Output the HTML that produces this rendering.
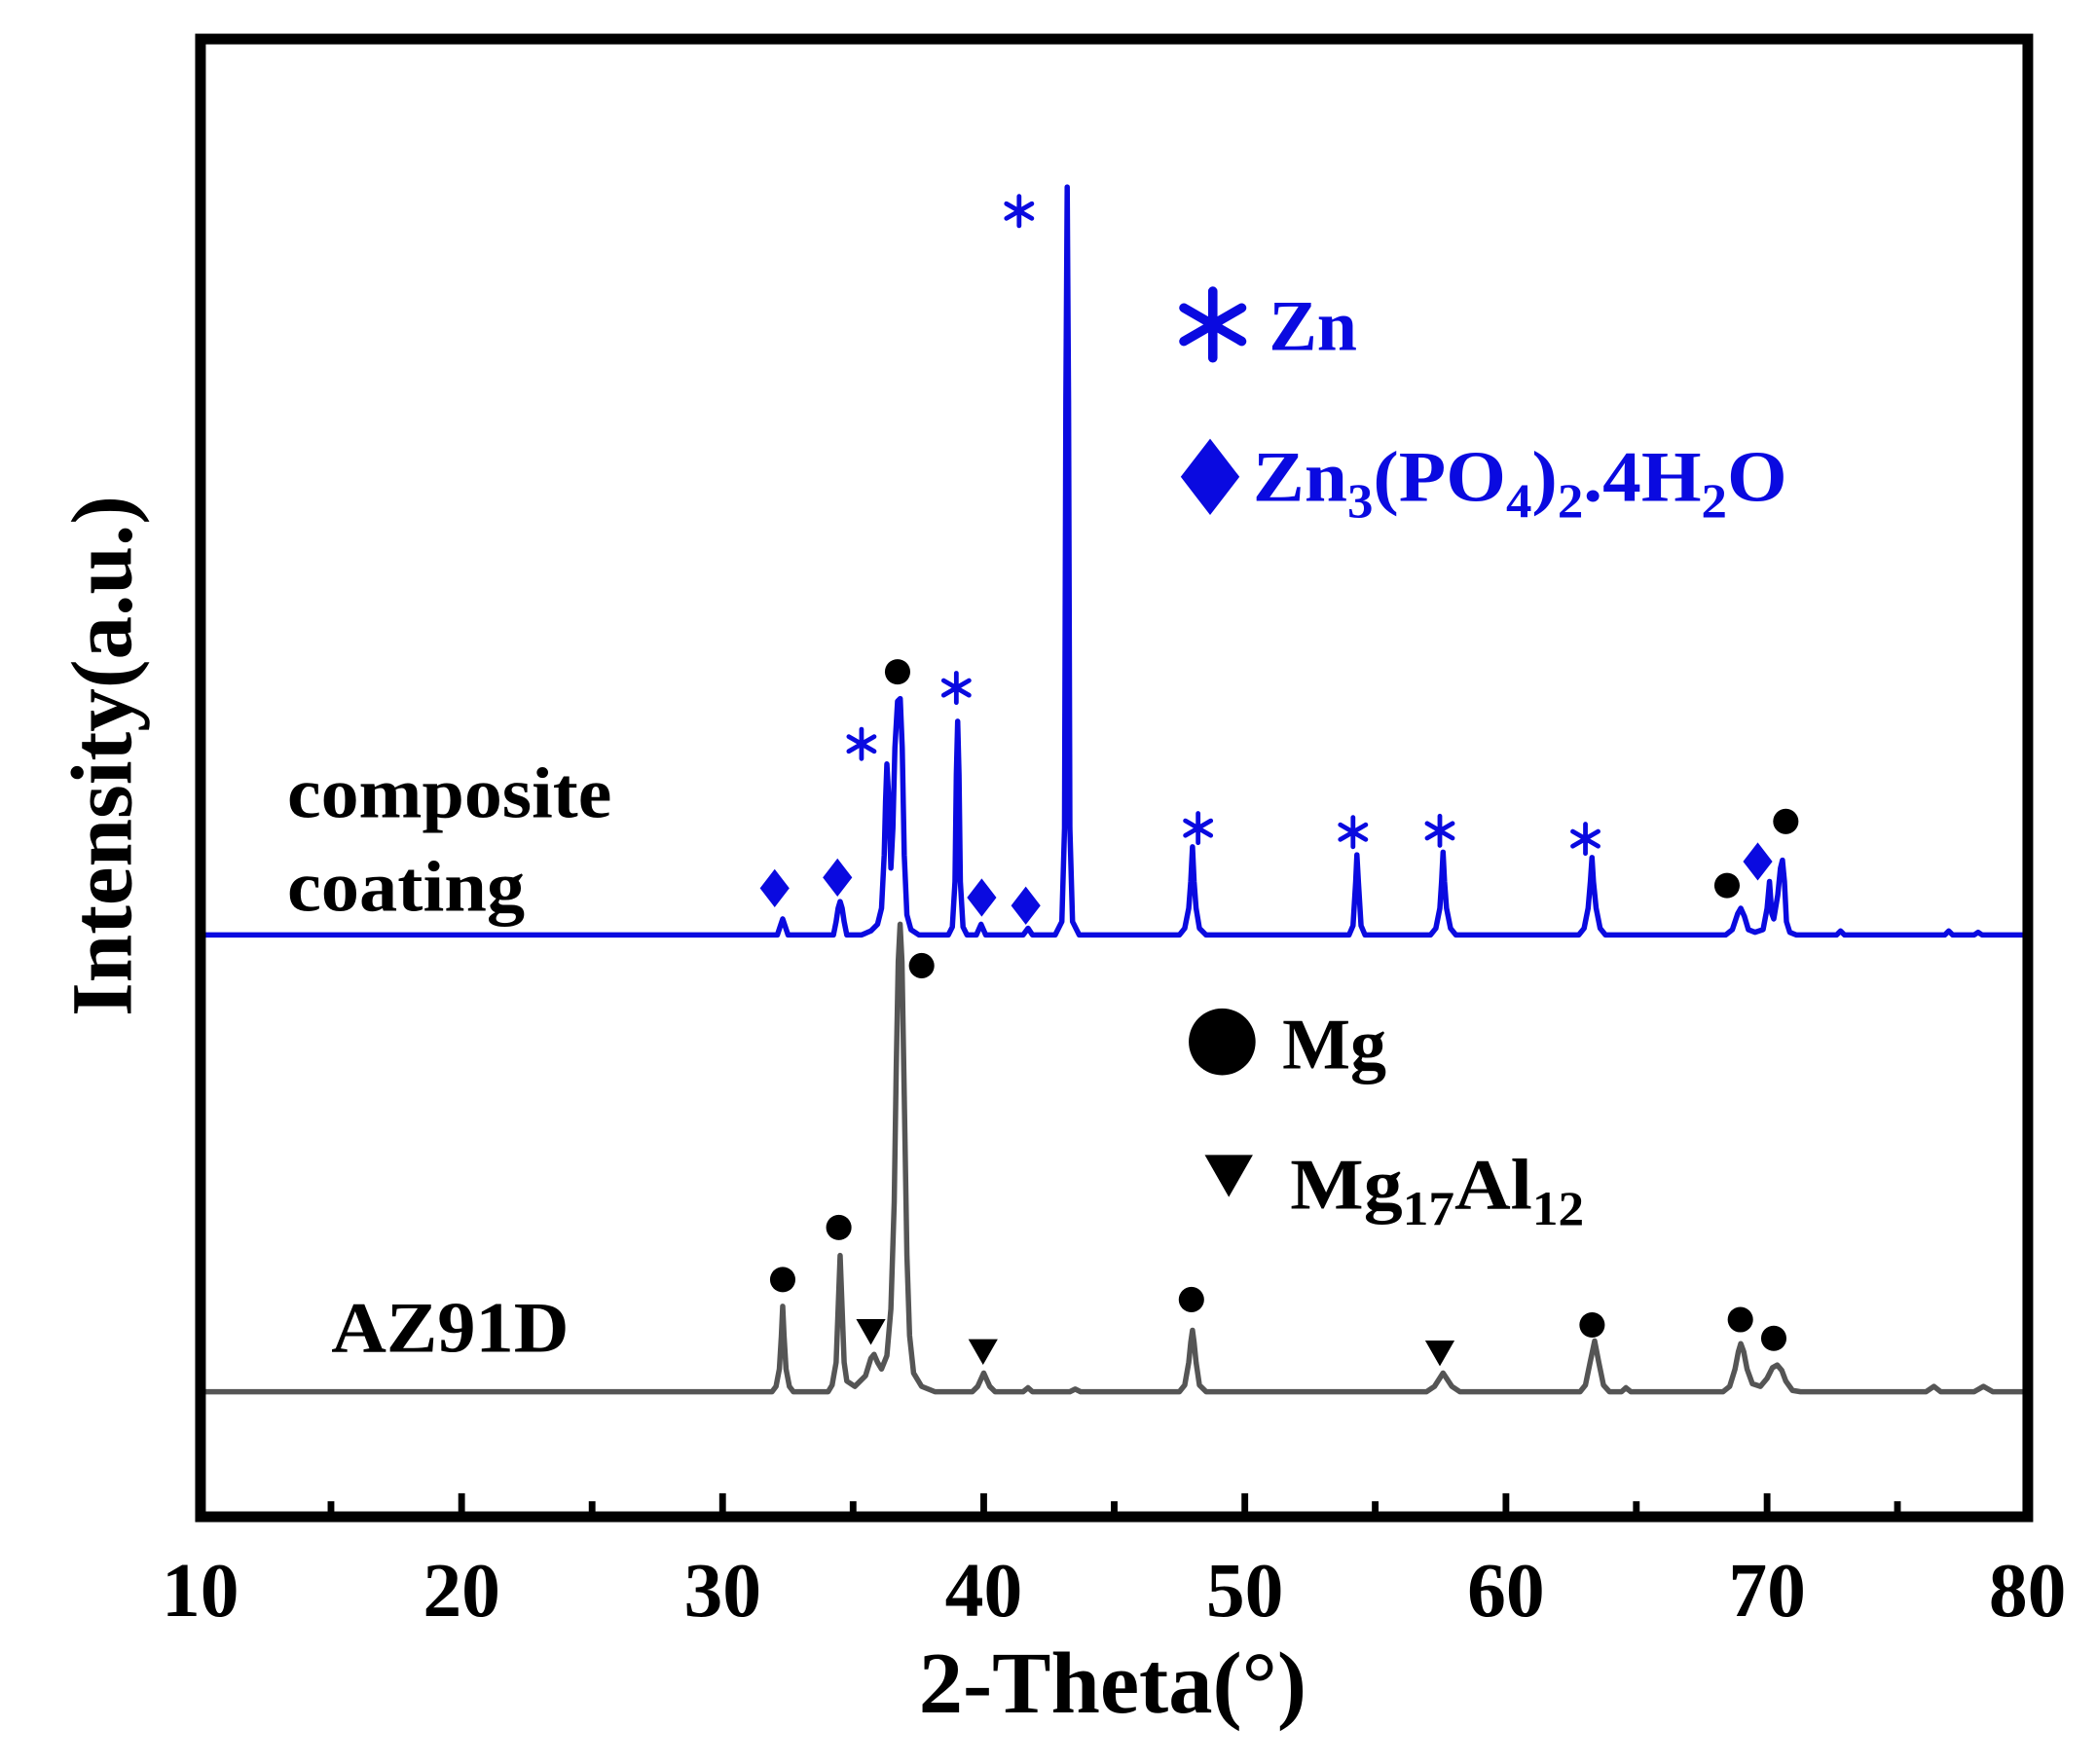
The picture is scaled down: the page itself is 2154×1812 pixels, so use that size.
<!DOCTYPE html>
<html><head><meta charset="utf-8"><style>html,body{margin:0;padding:0;background:#fff}svg{display:block}</style></head>
<body>
<svg width="2154" height="1812" viewBox="0 0 1570 1320.7" xmlns="http://www.w3.org/2000/svg" font-family="'Liberation Serif', serif" font-weight="bold">
<rect x="0" y="0" width="1570" height="1321" fill="#fff"/>
<path fill="none" stroke="#555" stroke-width="4" stroke-linejoin="round" d="M152 1042 L578 1042 L581 1038 L583.5 1025 L585 1000 L586 978 L587 1000 L588.5 1025 L591 1038 L594 1042 L620 1042 L623 1037 L626 1020 L627.5 980 L629 940 L630.5 980 L632 1020 L634 1034 L640 1038 L648 1030 L652 1017 L654.4 1014 L657 1020 L660 1025 L664 1015 L667 980 L669.5 900 L671 800 L672.5 720 L673.9 692 L675.3 720 L677 820 L679 940 L681 1000 L684 1028 L690 1038 L700 1042 L728 1042 L732 1038 L736.5 1028 L741 1038 L745 1042 L766 1042 L769.7 1039 L773 1042 L801 1042 L805 1040 L809 1042 L883 1042 L887 1037 L890 1020 L891.5 1005 L892.8 996 L894 1005 L895.5 1020 L898 1037 L903 1042 L1068 1042 L1074 1038 L1080.4 1028 L1087 1038 L1093 1042 L1183 1042 L1187 1037 L1190.5 1020 L1193.9 1004 L1197 1020 L1200.5 1037 L1205 1042 L1214 1042 L1217.3 1039 L1221 1042 L1290 1042 L1295 1038 L1299 1025 L1301.5 1012 L1303.3 1006 L1305.5 1012 L1308 1025 L1312 1036 L1318 1038 L1323 1032 L1327 1024 L1330.6 1022 L1334 1026 L1337 1034 L1342 1041 L1348 1042 L1442 1042 L1447.9 1038 L1453 1042 L1478 1042 L1485 1038 L1492 1042 L1516 1042"/>
<path fill="none" stroke="#0a0ae0" stroke-width="4" stroke-linejoin="round" d="M152 700 L582 700 L584 694 L586 688 L588 694 L590 700 L624 700 L626 690 L627.5 680 L629 675 L630.5 680 L632 690 L634 700 L645 700 L652 697 L657 692 L660 680 L662 640 L663 600 L664 572 L665.5 600 L667 650 L668.5 620 L670 560 L672 525 L674 523 L675.5 560 L677 640 L679 685 L682 696 L688 700 L710 700 L713 694 L715 660 L716 580 L717 540 L718 580 L719 660 L721 694 L724 700 L731 700 L734.5 692 L738 700 L766 700 L769.7 695 L773 700 L790 700 L795 690 L797 620 L798 300 L799 140 L800 300 L801 620 L803 690 L808 700 L883 700 L887 695 L890 680 L891.5 660 L892.8 634 L894 660 L895.5 680 L898 695 L903 700 L1010 700 L1013 693 L1015 660 L1015.9 640 L1017 660 L1019 693 L1022 700 L1071 700 L1075 695 L1078 680 L1079.3 660 L1080.4 638 L1081.5 660 L1083 680 L1086 695 L1090 700 L1182 700 L1186 695 L1189 680 L1190.7 660 L1191.9 642 L1193 660 L1195 680 L1198 695 L1202 700 L1292 700 L1297 696 L1301 684 L1303.3 680 L1306 686 L1309 696 L1314 698 L1320 696 L1323 680 L1324.8 660 L1326.5 684 L1328 688 L1331 670 L1333 650 L1334.5 644 L1336 660 L1337.5 690 L1340 698 L1345 700 L1375 700 L1378 697 L1381 700 L1456 700 L1459 697 L1462 700 L1478 700 L1481 698 L1484 700 L1516 700"/>
<g stroke="#0a0ae0" stroke-width="3.5" stroke-linecap="round" fill="none">
<path transform="translate(763,158)" d="M0 -11V11M-9.5 -5.5L9.5 5.5M-9.5 5.5L9.5 -5.5"/>
<path transform="translate(645,557)" d="M0 -11V11M-9.5 -5.5L9.5 5.5M-9.5 5.5L9.5 -5.5"/>
<path transform="translate(716,515)" d="M0 -11V11M-9.5 -5.5L9.5 5.5M-9.5 5.5L9.5 -5.5"/>
<path transform="translate(897,620)" d="M0 -11V11M-9.5 -5.5L9.5 5.5M-9.5 5.5L9.5 -5.5"/>
<path transform="translate(1013,623)" d="M0 -11V11M-9.5 -5.5L9.5 5.5M-9.5 5.5L9.5 -5.5"/>
<path transform="translate(1078,622)" d="M0 -11V11M-9.5 -5.5L9.5 5.5M-9.5 5.5L9.5 -5.5"/>
<path transform="translate(1187,628)" d="M0 -11V11M-9.5 -5.5L9.5 5.5M-9.5 5.5L9.5 -5.5"/>
<path transform="translate(908,243)" stroke-width="7" d="M0 -25V25M-21.65 -12.5L21.65 12.5M-21.65 12.5L21.65 -12.5"/>
</g>
<g fill="#0a0ae0">
<path transform="translate(580,665)" d="M0 -14.3L11 0L0 14.3L-11 0Z"/>
<path transform="translate(627,657)" d="M0 -14.3L11 0L0 14.3L-11 0Z"/>
<path transform="translate(735,672)" d="M0 -14.3L11 0L0 14.3L-11 0Z"/>
<path transform="translate(768,678)" d="M0 -14.3L11 0L0 14.3L-11 0Z"/>
<path transform="translate(1316,645)" d="M0 -14.3L11 0L0 14.3L-11 0Z"/>
<path transform="translate(906,357)" d="M0 -28.6L22 0L0 28.6L-22 0Z"/>
</g>
<g fill="#000">
<circle cx="672" cy="503" r="9.5"/><circle cx="690" cy="723" r="9.5"/><circle cx="1293" cy="663" r="9.5"/><circle cx="1337" cy="615" r="9.5"/>
<circle cx="586" cy="958" r="9.5"/><circle cx="628" cy="919" r="9.5"/><circle cx="892" cy="973" r="9.5"/><circle cx="1192" cy="992" r="9.5"/><circle cx="1303" cy="988" r="9.5"/><circle cx="1328" cy="1002" r="9.5"/>
<circle cx="915" cy="780" r="25"/>
<path transform="translate(652,997)" d="M-11 -9.35L11 -9.35L0 9.9Z"/>
<path transform="translate(736,1012)" d="M-11 -9.35L11 -9.35L0 9.9Z"/>
<path transform="translate(1078,1013)" d="M-11 -9.35L11 -9.35L0 9.9Z"/>
<path transform="translate(920,880)" d="M-18 -15.3L18 -15.3L0 16.2Z"/>
</g>
<rect x="150.1" y="29.2" width="1368.1" height="1106.4" fill="none" stroke="#000" stroke-width="8"/>
<g stroke="#000" stroke-width="5">
<line x1="247.8" x2="247.8" y1="1132" y2="1124"/><line x1="345.6" x2="345.6" y1="1132" y2="1118"/>
<line x1="443.3" x2="443.3" y1="1132" y2="1124"/><line x1="541" x2="541" y1="1132" y2="1118"/>
<line x1="638.7" x2="638.7" y1="1132" y2="1124"/><line x1="736.5" x2="736.5" y1="1132" y2="1118"/>
<line x1="834.2" x2="834.2" y1="1132" y2="1124"/><line x1="932" x2="932" y1="1132" y2="1118"/>
<line x1="1029.6" x2="1029.6" y1="1132" y2="1124"/><line x1="1127.5" x2="1127.5" y1="1132" y2="1118"/>
<line x1="1225.1" x2="1225.1" y1="1132" y2="1124"/><line x1="1323" x2="1323" y1="1132" y2="1118"/>
<line x1="1420.6" x2="1420.6" y1="1132" y2="1124"/>
</g>
<g font-size="58" text-anchor="middle">
<text x="150" y="1210">10</text><text x="345.6" y="1210">20</text><text x="541" y="1210">30</text>
<text x="736.5" y="1210">40</text><text x="932" y="1210">50</text><text x="1127.5" y="1210">60</text>
<text x="1323" y="1210">70</text><text x="1518" y="1210">80</text>
</g>
<text x="833" y="1282" font-size="66" text-anchor="middle">2-Theta(°)</text>
<text transform="translate(98,566) rotate(-90)" font-size="65" text-anchor="middle">Intensity(a.u.)</text>
<g font-size="54">
<text x="215" y="612" textLength="243" lengthAdjust="spacingAndGlyphs">composite</text>
<text x="215" y="682" textLength="178" lengthAdjust="spacingAndGlyphs">coating</text>
<text x="248" y="1012" textLength="178" lengthAdjust="spacingAndGlyphs">AZ91D</text>
</g>
<g fill="#0a0ae0" font-size="54">
<text x="950" y="262">Zn</text>
<text x="938" y="375" textLength="400" lengthAdjust="spacingAndGlyphs">Zn<tspan font-size="36" dy="12">3</tspan><tspan dy="-12">(PO</tspan><tspan font-size="36" dy="12">4</tspan><tspan dy="-12">)</tspan><tspan font-size="36" dy="12">2</tspan><tspan dy="-12">.4H</tspan><tspan font-size="36" dy="12">2</tspan><tspan dy="-12">O</tspan></text>
</g>
<g font-size="54">
<text x="960" y="800">Mg</text>
<text x="966" y="905" textLength="220" lengthAdjust="spacingAndGlyphs">Mg<tspan font-size="36" dy="12">17</tspan><tspan dy="-12">Al</tspan><tspan font-size="36" dy="12">12</tspan></text>
</g>
</svg>
</body></html>
